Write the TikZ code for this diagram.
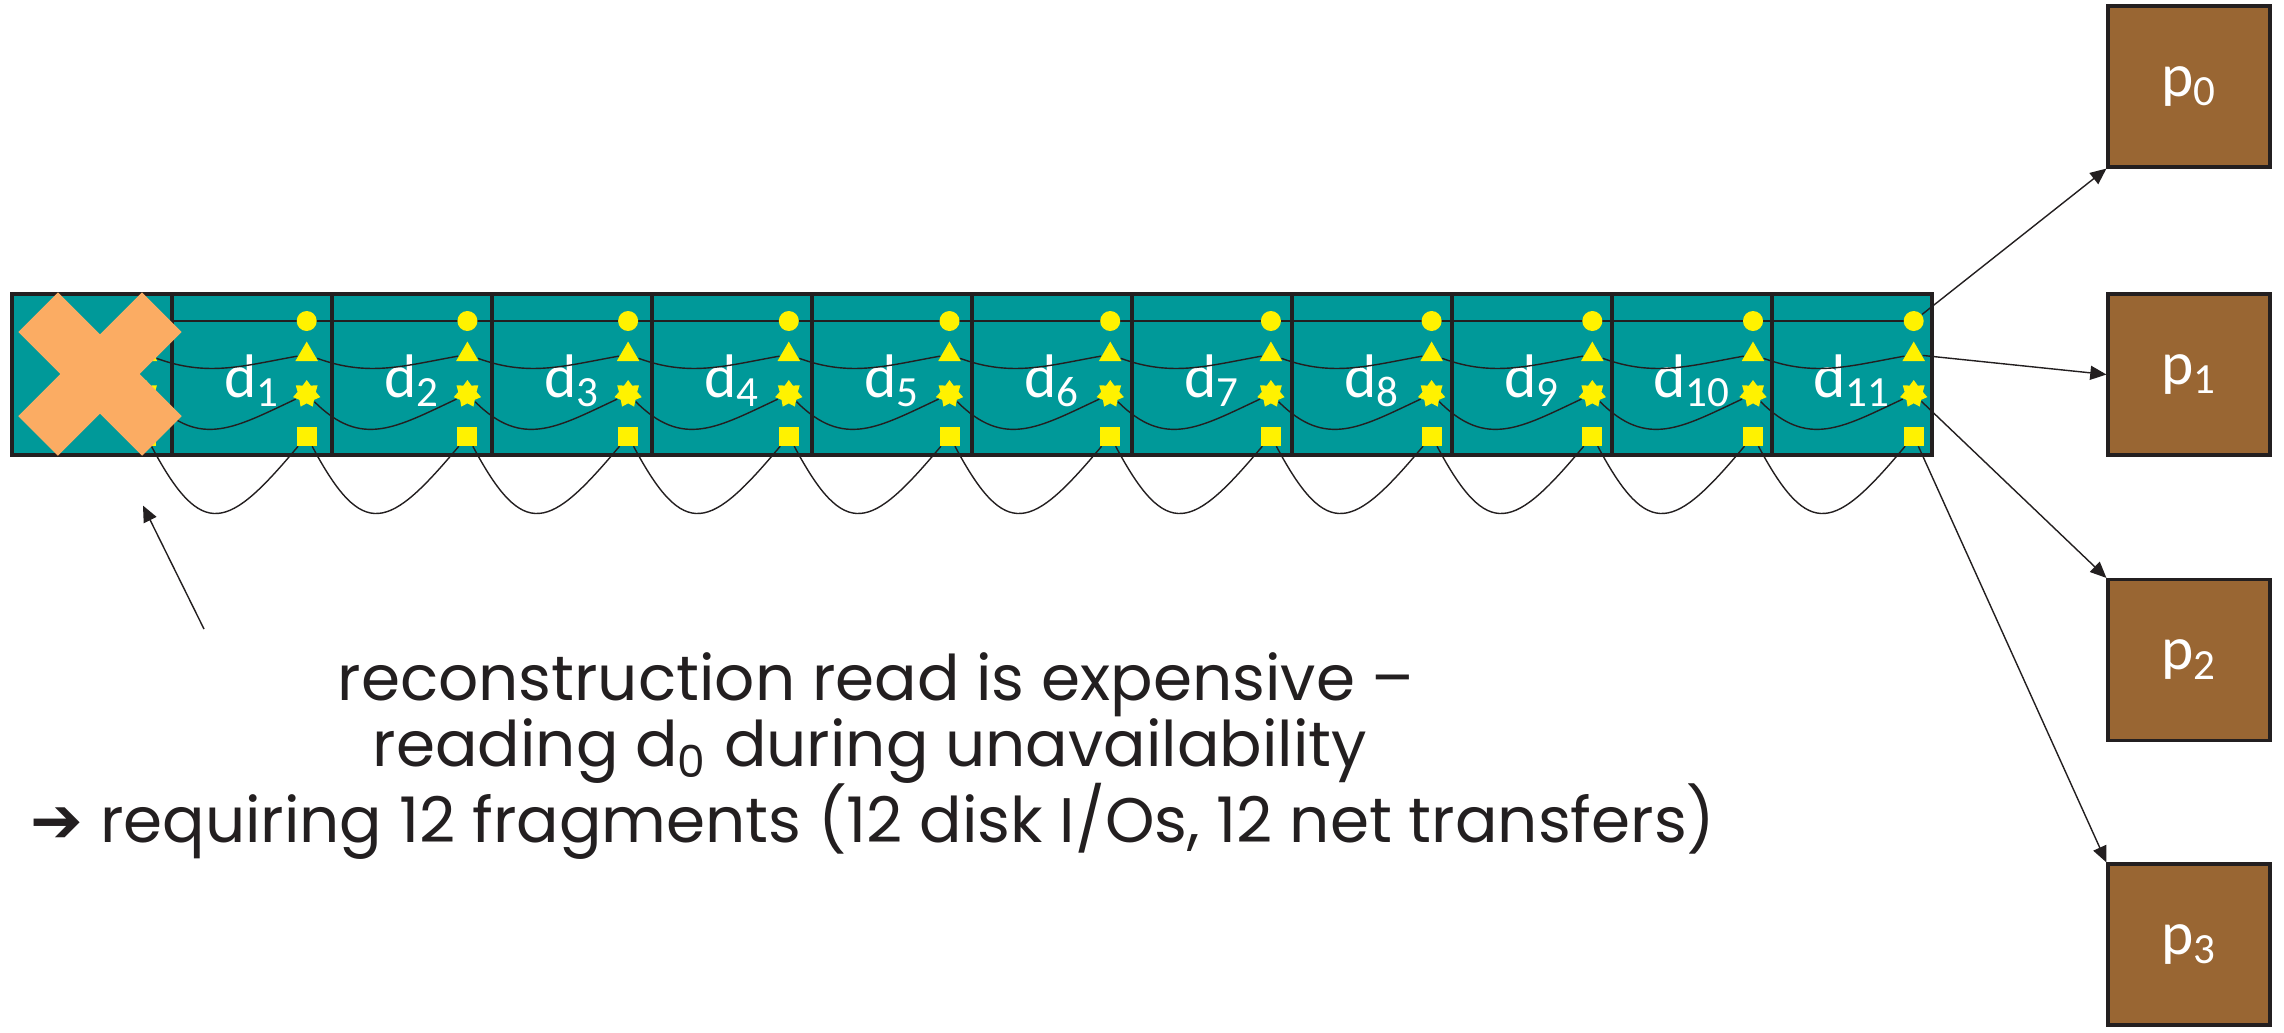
\documentclass[tikz,border=0pt]{standalone}
\usepackage{fontspec}
\setmainfont{Carlito}
\newfontfamily\arrowfont{DejaVu Sans}
\newfontfamily\gothic{Poppins}
\usetikzlibrary{arrows.meta, shapes.geometric}
\pgfdeclarelayer{front}
\pgfsetlayers{main,front}
\definecolor{stripe}{RGB}{0,153,153}
\definecolor{parity}{RGB}{153,102,51}
\definecolor{cross}{RGB}{251,172,99}
\definecolor{ink}{RGB}{35,31,32}
\tikzset{>={Triangle[length=4.6pt,width=4pt]}}

\begin{document}
\begin{tikzpicture}[line width=0.7pt, draw=ink,
    cell/.style={draw=ink, fill=stripe, line width=0.9pt, minimum width=1.6cm, minimum height=1.61cm, inner sep=0},
    pbox/.style={draw=ink, fill=parity, line width=0.9pt, minimum width=1.62cm, minimum height=1.61cm, inner sep=0, text=white, font=\fontsize{17.5}{20}\selectfont},
    dlabel/.style={text=white, anchor=base, inner sep=0, font=\fontsize{17.5}{20}\selectfont},
    dotmark/.style={circle, fill=yellow, minimum size=0.2cm, inner sep=0},
    trimark/.style={regular polygon, regular polygon sides=3, fill=yellow, minimum size=0.26cm, inner sep=0},
    starmark/.style={star, star points=7, star point ratio=1.5, fill=yellow, minimum size=0.28cm, inner sep=0},
    boxmark/.style={rectangle, fill=yellow, minimum width=0.2cm, minimum height=0.19cm, inner sep=0},
    caption/.style={anchor=base, inner sep=0, text=ink, font=\gothic\fontsize{17.9}{22}\selectfont}]
    \useasboundingbox (0,0) rectangle (22.84,10.32);

    % the twelve data fragments
    \foreach \k in {0,...,11}
    \node[cell] (c\k) at ({0.92+1.6*\k},6.575) {};
    \foreach \k in {1,...,11}
    \node[dlabel] (d\k) at ({0.92+1.6*\k},6.35) {d\textsubscript{\k}};

    % parity fragments
    \foreach \i/\y in {0/9.455, 1/6.575, 2/3.72, 3/0.875}
    \node[pbox] (p\i) at (21.89,\y) {p\textsubscript{\i}};

    % one column of marks per fragment
    \begin{pgfonlayer}{front}
    \foreach \k in {0,...,11}{
        \node[dotmark]  (o\k) at ({1.46+1.607*\k},7.11) {};
        \node[trimark]  (t\k) at ({1.46+1.607*\k},6.775) {};
        \node[starmark] (s\k) at ({1.46+1.607*\k},6.38) {};
        \node[boxmark]  (q\k) at ({1.46+1.607*\k},5.96) {};
    }
    % lost fragment
    \foreach \a in {45,-45}
    \fill[cross, rotate around={\a:(1.0,6.58)}] (0.125,6.30) rectangle (1.875,6.86);
    \end{pgfonlayer}

    \foreach \k [count=\n from 1] in {0,...,10}{
        \draw (o\k.center) -- (o\n.center);
        \draw (t\k) to[out=-20,in=190] (t\n);
        \draw (s\k) to[out=-45,in=-155,looseness=1.2] (s\n);
        \draw (q\k) to[out=-62,in=-130,looseness=1.9] (q\n);
    }

    \draw[->] (o11) -- (p0.south west);
    \draw[->] (t11) -- (p1.west);
    \draw[->] (s11) -- (p2.north west);
    \draw[->] (q11) -- (p3.north west);

    \coordinate (hint) at (2.04,4.03);
    \draw[->] (hint) -- ([shift={(0.51,-0.49)}]c0.south);

    \node[caption] (cap1) at (8.76,3.32) {reconstruction read is expensive –};
    \node[caption] (cap2) at (8.70,2.66) {reading d\textsubscript{0} during unavailability};
    \node[caption] (cap3) at (8.73,1.90) {{\arrowfont ➔} requiring 12 fragments (12 disk I/Os, 12 net transfers)};
\end{tikzpicture}
\end{document}
